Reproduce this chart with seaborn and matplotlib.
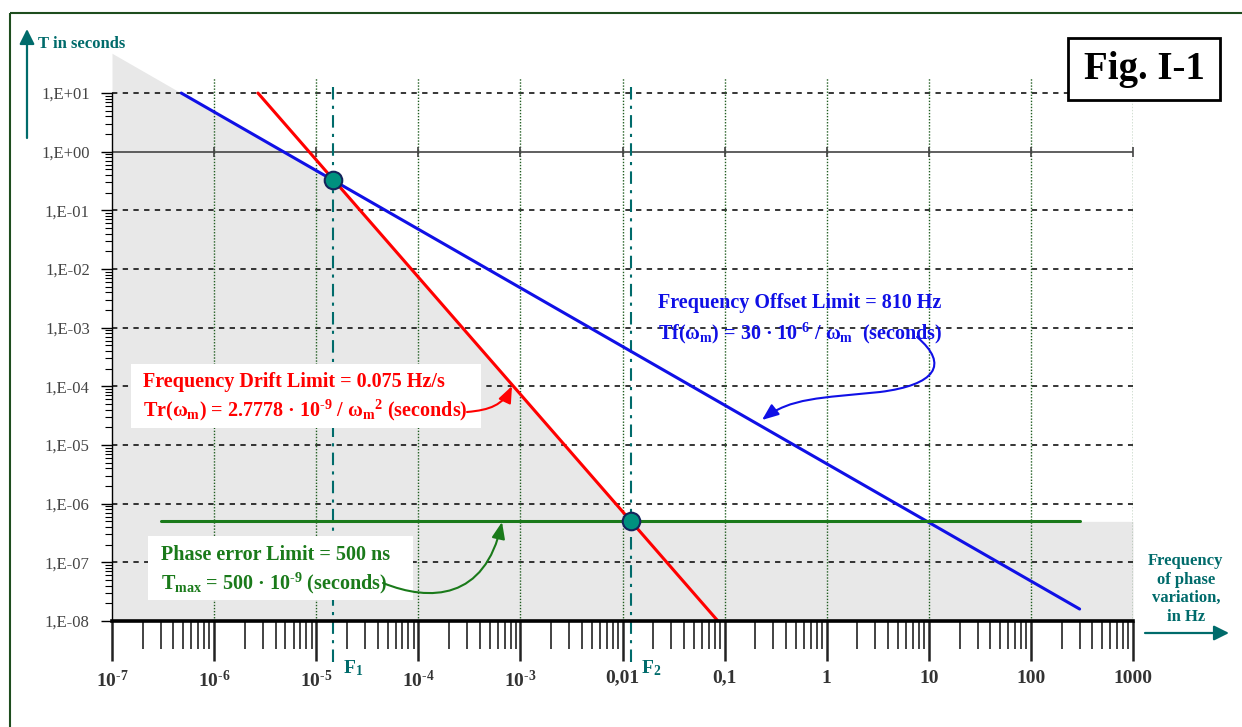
import matplotlib
matplotlib.use("Agg")
import matplotlib.pyplot as plt
import matplotlib.transforms as mtransforms
from matplotlib.patches import FancyArrowPatch, Rectangle
from matplotlib.path import Path
from matplotlib.ticker import FixedLocator, NullFormatter, FixedFormatter
import seaborn as sns

HY = "\u2010"  # short hyphen for exponents

# ---- axis decades and their printed labels ----
x_decades = [1e-7, 1e-6, 1e-5, 1e-4, 1e-3, 1e-2, 1e-1, 1.0, 10.0, 100.0, 1000.0]
x_labels = [f"10$^{{{HY}7}}$", f"10$^{{{HY}6}}$", f"10$^{{{HY}5}}$", f"10$^{{{HY}4}}$",
            f"10$^{{{HY}3}}$", "0,01", "0,1", "1", "10", "100", "1000"]
y_decades = [1e1, 1e0, 1e-1, 1e-2, 1e-3, 1e-4, 1e-5, 1e-6, 1e-7, 1e-8]
y_labels = ["1,E+01", "1,E+00", "1,E-01", "1,E-02", "1,E-03",
            "1,E-04", "1,E-05", "1,E-06", "1,E-07", "1,E-08"]

# ---- limit curves (end points, Hz / seconds) ----
offset_f = [4.77e-7, 300.0]      # frequency offset limit, 810 Hz
offset_T = [10.0, 1.6e-8]
drift_f = [2.69e-6, 0.086]       # frequency drift limit, 0.075 Hz/s
drift_T = [10.0, 1.0e-8]
phase_f = [3.0e-7, 300.0]        # phase error limit, 500 ns
phase_T = [5.0e-7, 5.0e-7]

# crossing points F1 and F2
cross_f = [1.47e-5, 1.22e-2]
cross_T = [0.324, 5.0e-7]
cross_names = [r"F$_1$", r"F$_2$"]

# lower envelope of the three limits (shaded region)
envelope_f = [1e-7, 1.47e-5, 1.22e-2, 1000.0]
envelope_T = [47.7, 0.324, 5.0e-7, 5.0e-7]

# ---- style ----
sns.set_theme(style="white")
plt.rcParams["font.family"] = ["Liberation Serif", "DejaVu Serif"]
plt.rcParams["mathtext.fontset"] = "custom"
plt.rcParams["mathtext.rm"] = "Liberation Serif:bold"
plt.rcParams["mathtext.it"] = "Liberation Serif:bold"
plt.rcParams["mathtext.bf"] = "Liberation Serif:bold"

TEAL = "#006b6b"
BLUE = "#1010e6"
RED = "#ff0000"
GREEN = "#1a7a1a"
GRID_GREEN = "#1f5c1f"

W, H = 1242, 727
fig = plt.figure(figsize=(W / 100, H / 100), dpi=100)
fig.patch.set_facecolor("white")
left, right, bottom, top = 112, 1133, 621, 52
ax = fig.add_axes([left / W, 1 - bottom / H, (right - left) / W, (bottom - top) / H])
ax.set_xscale("log")
ax.set_yscale("log")
ax.set_xlim(1e-7, 1000)
ax.set_ylim(1e-8, 10 ** 1.7)
ax.set_facecolor("white")

# pixel coordinates (origin top-left) for annotation placement
px = mtransforms.Affine2D().scale(1 / W, -1 / H).translate(0, 1) + fig.transFigure

# shaded acceptable region
ax.fill_between(envelope_f, 1e-8, envelope_T, color="#e8e8e8", lw=0, zorder=0)

# horizontal dashed decade lines
for y in y_decades:
    if y in (1.0, 1e-8):
        continue
    ax.axhline(y, color="black", lw=1.1, ls=(0, (3.5, 3.5)), zorder=1)

# vertical dotted decade lines
for x in x_decades[1:]:
    ax.plot([x, x], [1e-8, 10 ** 1.25], color=GRID_GREEN, lw=1.0, ls=(0, (1, 1.2)), zorder=1)

# solid reference line at T = 1 s with decade marks
ax.axhline(1.0, color="#444444", lw=1.2, zorder=2)
ax.plot(x_decades, [1.0] * len(x_decades), ls="none", marker="|", ms=7, mew=1.2,
        color="#444444", zorder=2)

# F1 / F2 dash-dot markers
for f in cross_f:
    ax.plot([f, f], [10 ** -8.7, 10 ** 1.15], color=TEAL, lw=1.5,
            ls=(0, (6, 3, 1.5, 3)), clip_on=False, zorder=3)

# limit lines
sns.lineplot(x=offset_f, y=offset_T, color=BLUE, lw=2.2, ax=ax, estimator=None, sort=False, zorder=4)
sns.lineplot(x=drift_f, y=drift_T, color=RED, lw=2.2, ax=ax, estimator=None, sort=False, zorder=4)
sns.lineplot(x=phase_f, y=phase_T, color=GREEN, lw=2.2, ax=ax, estimator=None, sort=False, zorder=4)

# crossing points
sns.scatterplot(x=cross_f, y=cross_T, s=160, color="#00917f", edgecolor="#14245c",
                linewidth=1.5, ax=ax, zorder=6)

for f, name in zip(cross_f, cross_names):
    ax.annotate(name, xy=(f, 1e-8), xytext=(7, -34), textcoords="offset points",
                ha="left", va="center", fontsize=14, fontweight="bold", color=TEAL,
                annotation_clip=False)

# ---- axes, ticks ----
for s in ("top", "right"):
    ax.spines[s].set_visible(False)
ax.spines["left"].set_bounds(1e-8, 10)
ax.spines["left"].set_color("black")
ax.spines["left"].set_linewidth(1.0)
ax.spines["bottom"].set_color("black")
ax.spines["bottom"].set_linewidth(2.6)
ax.spines["bottom"].set_zorder(5)

minor_x = [m * d for d in x_decades[:-1] for m in range(2, 10)]
minor_y = [m * d for d in y_decades[1:] for m in range(2, 10)]

ax.xaxis.set_major_locator(FixedLocator(x_decades))
ax.xaxis.set_major_formatter(FixedFormatter(x_labels))
ax.xaxis.set_minor_locator(FixedLocator(minor_x))
ax.xaxis.set_minor_formatter(NullFormatter())
ax.tick_params(axis="x", which="major", bottom=True, direction="out", length=29, width=1.8,
               color="#222222", pad=6, labelsize=14, labelcolor="#333333")
ax.tick_params(axis="x", which="minor", bottom=True, direction="out", length=20, width=1.2,
               color="#222222")
for lab in ax.get_xticklabels():
    lab.set_fontweight("bold")

ax.yaxis.set_major_locator(FixedLocator(y_decades))
ax.yaxis.set_major_formatter(FixedFormatter(y_labels))
ax.yaxis.set_minor_locator(FixedLocator(minor_y))
ax.yaxis.set_minor_formatter(NullFormatter())
ax.tick_params(axis="y", which="major", left=True, direction="out", length=8, width=1.0,
               color="black", pad=8, labelsize=12, labelcolor="#444444")
ax.tick_params(axis="y", which="minor", left=True, direction="out", length=5, width=0.8,
               color="black")
ax.set_xlabel("")
ax.set_ylabel("")

# ---- annotations ----
def box(x0, y0, w, h, **kw):
    r = Rectangle((x0, y0), w, h, transform=px, **kw)
    fig.add_artist(r)

def label(x, y, s, color, size=14.5, ha="left", **kw):
    fig.text(x, y, s, transform=px, color=color, fontsize=size, fontweight="bold",
             ha=ha, va="center", zorder=8, **kw)

def curve(points, color, head=(10, 4)):
    codes = [Path.MOVETO] + [Path.CURVE4] * (len(points) - 1)
    arr = FancyArrowPatch(path=Path(points, codes),
                          arrowstyle=f"-|>,head_length={head[0]},head_width={head[1]}",
                          color=color, lw=1.5, transform=px, mutation_scale=1, zorder=8)
    fig.add_artist(arr)

# frequency drift limit
box(131, 364, 350, 64, facecolor="white", edgecolor="none", zorder=7)
label(143, 382, "Frequency Drift Limit = 0.075 Hz/s", RED)
label(143, 410, f"Tr($\\omega_m$) = 2.7778 · 10$^{{{HY}9}}$ / $\\omega_m{{}}^2$ (seconds)", RED)
curve([(467, 412), (490, 410), (503, 405), (512, 386)], RED)

# frequency offset limit
label(658, 303, "Frequency Offset Limit = 810 Hz", BLUE)
label(658, 333, f"Tf($\\omega_m$) = 30 · 10$^{{{HY}6}}$ / $\\omega_m$  (seconds)", BLUE)
curve([(917, 337), (950, 365), (935, 385), (880, 392),
       (820, 398), (790, 398), (762, 420)], BLUE)

# phase error limit
box(148, 536, 265, 64, facecolor="white", edgecolor="none", zorder=7)
label(161, 555, "Phase error Limit = 500 ns", GREEN)
label(161, 583, f"T$_{{max}}$ = 500 · 10$^{{{HY}9}}$ (seconds)", GREEN)
curve([(383, 583), (430, 602), (485, 600), (502, 522)], GREEN)

# figure tag
box(1068, 38, 152, 62, facecolor="white", edgecolor="black", lw=2.0, zorder=7)
label(1144, 70, "Fig. I-1", "black", size=28, ha="center")

# axis titles with arrows
label(38, 44, "T in seconds", TEAL, size=12)
fig.add_artist(FancyArrowPatch((27, 138), (27, 29), transform=px, color=TEAL, lw=1.6,
                               arrowstyle="-|>,head_length=9,head_width=4.5",
                               mutation_scale=1, shrinkA=0, shrinkB=0))
label(1186, 589, "Frequency\nof phase\nvariation,\nin Hz", TEAL, size=12, ha="center",
      linespacing=1.22, multialignment="center")
fig.add_artist(FancyArrowPatch((1145, 633), (1229, 633), transform=px, color=TEAL, lw=1.6,
                               arrowstyle="-|>,head_length=9,head_width=4.5",
                               mutation_scale=1, shrinkA=0, shrinkB=0))

# outer frame (right and bottom edges run past the canvas)
fig.add_artist(Rectangle((10, 13), 1240, 730, transform=px, fill=False,
                         edgecolor="#1e4d1e", lw=1.5, zorder=10))

fig.savefig("out.png", dpi=100)
